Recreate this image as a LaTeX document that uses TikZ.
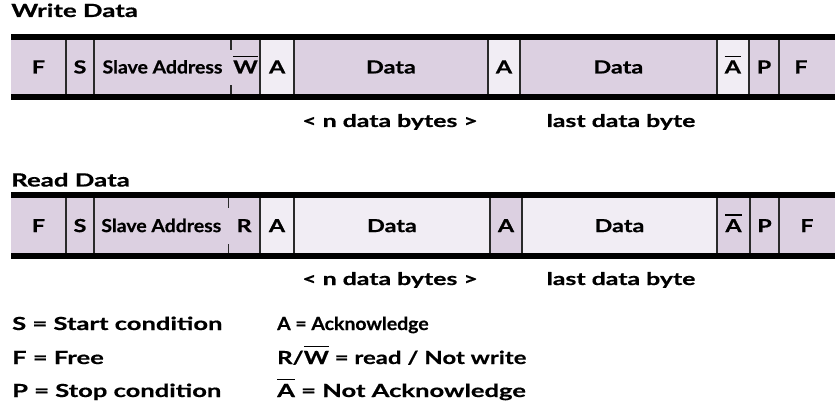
\documentclass[tikz,border=0pt]{standalone}
\usepackage{graphicx}
\usepackage{fontspec}
\setmainfont{Lato}[FakeStretch=1.42, BoldFeatures={FakeBold=0.6}]
\newfontfamily\cellfont{Lato}[FakeStretch=1.3, BoldFeatures={FakeBold=0.6}]
\newfontfamily\safont{Lato}[FakeStretch=1.08, BoldFeatures={FakeBold=0.6}]
\newfontfamily\legmid{Lato}[FakeStretch=1.33, BoldFeatures={FakeBold=0.6}]
\definecolor{lavdark}{HTML}{DCD0E1}
\definecolor{lavlight}{HTML}{F1EDF4}
\definecolor{divgray}{HTML}{2A2A2A}
\newcommand\ovbar[1]{\vbox{\hrule height 1.4pt\kern 3.5pt\hbox{#1}}}
\newcommand\mkcell[7]{%
  \node[cellbox, fill=#6, minimum width={#3-#2}, minimum height={#5-#4}] (#1) at ({(#2+#3)/2},{(#4+#5)/2}) {#7};}
\tikzset{
  cellbox/.style={inner sep=0pt, outer sep=0pt, draw=none, font=\cellfont\bfseries\fontsize{18}{18}\selectfont, text height=12.9pt, text depth=0pt},
  divider/.style={draw=divgray, line width=1.8pt},
  tick/.style={draw=divgray, line width=1.6pt},
  railfill/.style={fill=black},
  title/.style={anchor=base west, inner sep=0pt, font=\bfseries\fontsize{18.2}{18.2}\selectfont},
  caption/.style={anchor=base, inner sep=0pt, font=\bfseries\fontsize{17.5}{17.5}\selectfont},
  legend/.style={anchor=base west, inner sep=0pt, font=\bfseries\fontsize{18}{18}\selectfont}
}
\begin{document}
\begin{tikzpicture}[x=1pt,y=-1pt]
\useasboundingbox[fill=white] (0,0) rectangle (835,414);
% ---------- Write Data ----------
\node[title] (wtitle) at (11,17) {Write Data};
\mkcell{wF}{11}{65.7}{40}{94}{lavdark}{F}
\mkcell{wS}{65.7}{94.3}{40}{94}{lavdark}{S}
\mkcell{wSA}{94.3}{230.7}{40}{94}{lavdark}{\safont Slave Address}
\mkcell{wW}{230.7}{260.3}{40}{94}{lavdark}{\ovbar{W}}
\mkcell{wA}{260.3}{294}{40}{94}{lavlight}{A}
\mkcell{wD}{294}{488}{40}{94}{lavdark}{Data}
\mkcell{wA2}{488}{520}{40}{94}{lavlight}{A}
\mkcell{wD2}{520}{716.7}{40}{94}{lavdark}{Data}
\mkcell{wNA}{716.7}{749}{40}{94}{lavlight}{\ovbar{A}}
\mkcell{wP}{749}{779}{40}{94}{lavdark}{P}
\mkcell{wF2}{779}{835}{40}{94}{lavdark}{F\hspace*{12pt}}
\foreach \c in {wF,wS,wW,wA,wD,wA2,wD2,wNA,wP}
  \draw[divider] (\c.north east) -- (\c.south east);
\draw[tick] (wSA.north east) -- ([yshift=-10pt]wSA.north east);
\draw[tick] (wSA.south east) -- ([yshift=9pt]wSA.south east);
\fill[railfill] ([yshift=5.7pt]wF.north west) rectangle (wF2.north east);
\fill[railfill] (wF.south west) rectangle ([yshift=-6pt]wF2.south east);
\node[caption] (wcap1) at (390,127) {< n data bytes >};
\node[caption] (wcap2) at (621,127) {last data byte};
% ---------- Read Data ----------
\node[title] (rtitle) at (11,186.5) {Read Data};
\mkcell{rF}{11}{65.7}{198.3}{253}{lavdark}{F}
\mkcell{rS}{65.7}{94.3}{198.3}{253}{lavdark}{S}
\mkcell{rSA}{94.3}{228.3}{198.3}{253}{lavdark}{\safont Slave Address}
\mkcell{rR}{228.3}{260}{198.3}{253}{lavdark}{R}
\mkcell{rA}{260}{294}{198.3}{253}{lavlight}{A}
\mkcell{rD}{294}{490}{198.3}{253}{lavlight}{Data}
\mkcell{rA2}{490}{522}{198.3}{253}{lavdark}{A}
\mkcell{rD2}{522}{717}{198.3}{253}{lavlight}{Data}
\mkcell{rNA}{717}{750}{198.3}{253}{lavdark}{\ovbar{A}}
\mkcell{rP}{750}{779}{198.3}{253}{lavdark}{P}
\mkcell{rF2}{779}{835}{198.3}{253}{lavdark}{F}
\foreach \c in {rF,rS,rR,rA,rD,rA2,rD2,rNA,rP}
  \draw[divider] (\c.north east) -- (\c.south east);
\draw[tick] (rSA.north east) -- ([yshift=-10pt]rSA.north east);
\draw[tick] (rSA.south east) -- ([yshift=9pt]rSA.south east);
\fill[railfill] ([yshift=6pt]rF.north west) rectangle (rF2.north east);
\fill[railfill] (rF.south west) rectangle ([yshift=-6pt]rF2.south east);
\node[caption] (rcap1) at (390,285) {< n data bytes >};
\node[caption] (rcap2) at (621,285) {last data byte};
% ---------- Legend ----------
\node[legend] (l1) at (12,330) {S = Start condition};
\node[legend] (l2) at (12,364) {F = Free};
\node[legend] (l3) at (12,397) {P = Stop condition};
\node[legend] (l4) at (277,330) {\scalebox{0.76}[1]{A = Acknowledge}};
\node[legend] (l5) at (277,364) {\legmid R/\ovbar{W} = read / Not write};
\node[legend] (l6) at (277,397) {\ovbar{A} = Not Acknowledge};
\end{tikzpicture}
\end{document}
